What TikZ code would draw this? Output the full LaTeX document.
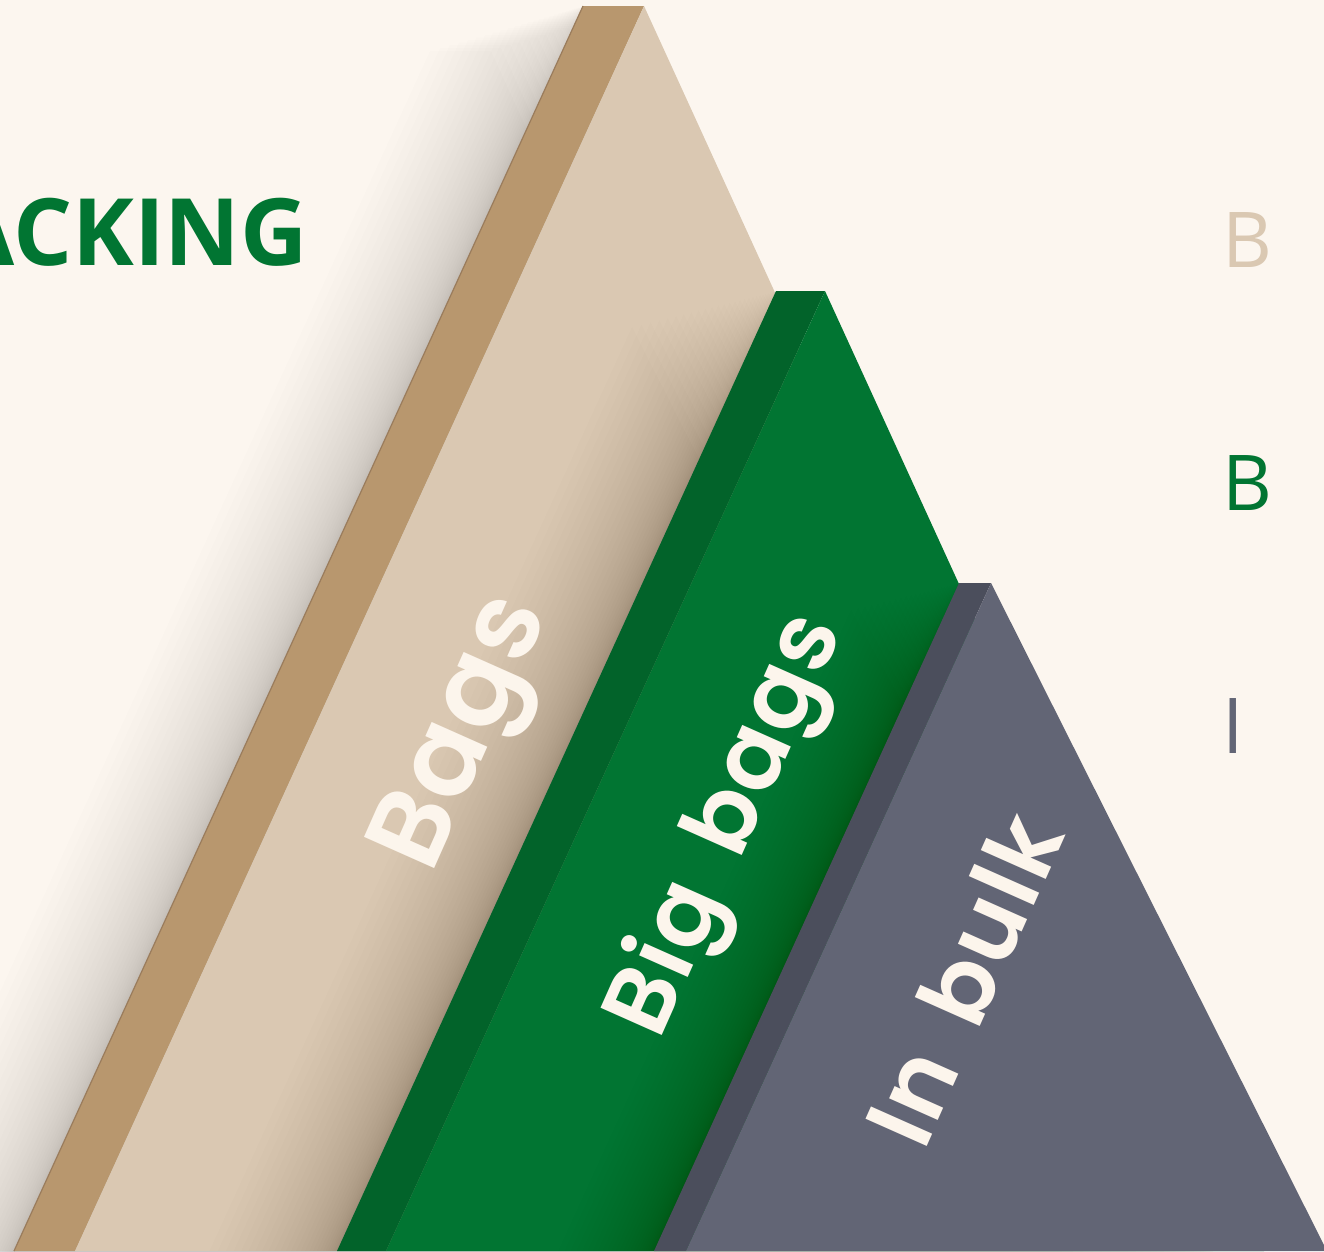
\documentclass[tikz,border=0pt]{standalone}
\usepackage{fontspec}
\setmainfont{Open Sans}
\newfontfamily\lblfont{Poppins}[BoldFont={Poppins SemiBold}, LetterSpace=2, WordSpace=1.6]
\definecolor{bgc}{HTML}{FCF6EF}
\definecolor{tandark}{HTML}{B8976E}
\definecolor{tanlight}{HTML}{DAC8B2}
\definecolor{tanline}{HTML}{9A7C5C}
\definecolor{grdark}{HTML}{02632A}
\definecolor{grlight}{HTML}{017532}
\definecolor{gydark}{HTML}{4B4E5C}
\definecolor{gylight}{HTML}{626575}
\definecolor{lbltext}{HTML}{FCF5EC}
\tikzset{
  lbl/.style={text=lbltext, inner sep=0pt},
  sidelbl/.style={inner sep=0pt, anchor=base west, font=\fontsize{77}{77}\selectfont},
}
\begin{document}
\begin{tikzpicture}[x=1pt,y=-1pt]
\useasboundingbox (0,0) rectangle (1324,1251);
\fill[bgc] (0,0) rectangle (1324,1251);

% shadow of the tan block on the background
\foreach \i in {1,...,30}{
  \fill[black,opacity=0.006] ({583-0.17*\i*\i},{6+0.05*\i*\i}) -- ({644-0.17*\i*\i},{6+0.05*\i*\i}) -- ({1213-0.17*\i*\i},{1251+0.05*\i*\i}) -- ({14-0.17*\i*\i},{1251+0.05*\i*\i}) -- cycle;
}
% tan block
\fill[tandark] (583,6) -- (644,6) -- (75,1251) -- (14,1251) -- cycle;
\draw[tanline, line width=1.2pt] (583,6) -- (14,1251);
\fill[tanlight] (644,6) -- (1213,1251) -- (75,1251) -- cycle;

% shadow of green block on tan
\begin{scope}
  \clip (644,6) -- (1213,1251) -- (75,1251) -- cycle;
  \foreach \i in {1,...,30}{
    \fill[black,opacity=0.009] ({776-0.16*\i*\i},{291+0.04*\i*\i}) -- ({1264-0.16*\i*\i},{1251+0.04*\i*\i}) -- ({337-0.16*\i*\i},{1251+0.04*\i*\i}) -- cycle;
  }
\end{scope}
% green block
\fill[grdark] (776,291) -- (825,291) -- (386,1251) -- (337,1251) -- cycle;
\fill[grlight] (825,291) -- (1264,1251) -- (386,1251) -- cycle;

% shadow of grey block on green
\begin{scope}
  \clip (825,291) -- (1264,1251) -- (386,1251) -- cycle;
  \foreach \i in {1,...,30}{
    \fill[black,opacity=0.008] ({959-0.12*\i*\i},{583+0.03*\i*\i}) -- ({1327-0.12*\i*\i},{1251+0.03*\i*\i}) -- ({654-0.12*\i*\i},{1251+0.03*\i*\i}) -- cycle;
  }
\end{scope}
% grey block
\fill[gydark] (959,583) -- (991,583) -- (686,1251) -- (654,1251) -- cycle;
\fill[gylight] (991,583) -- (1327,1251) -- (686,1251) -- cycle;

% labels
\node[lbl, rotate=66, font=\lblfont\bfseries\fontsize{110}{110}\selectfont] (bags) at (468,735) {Bags};
\node[lbl, rotate=66, font=\lblfont\bfseries\fontsize{96}{96}\selectfont] (bigbags) at (729,826) {Big bags};
\node[lbl, rotate=66, font=\lblfont\bfseries\fontsize{96}{96}\selectfont] (inbulk) at (963,979) {In bulk};

% title fragment
\node[inner sep=0pt, anchor=base east, text=grlight, font=\bfseries\fontsize{93}{93}\selectfont] (title) at (308,265) {ACKING};

% right-hand letters
\node[sidelbl, text=tanlight] (r1) at (1222,267) {B};
\node[sidelbl, text=grlight] (r2) at (1222,510) {B};
\node[sidelbl, text=gylight] (r3) at (1222,753) {I};
\end{tikzpicture}
\end{document}
